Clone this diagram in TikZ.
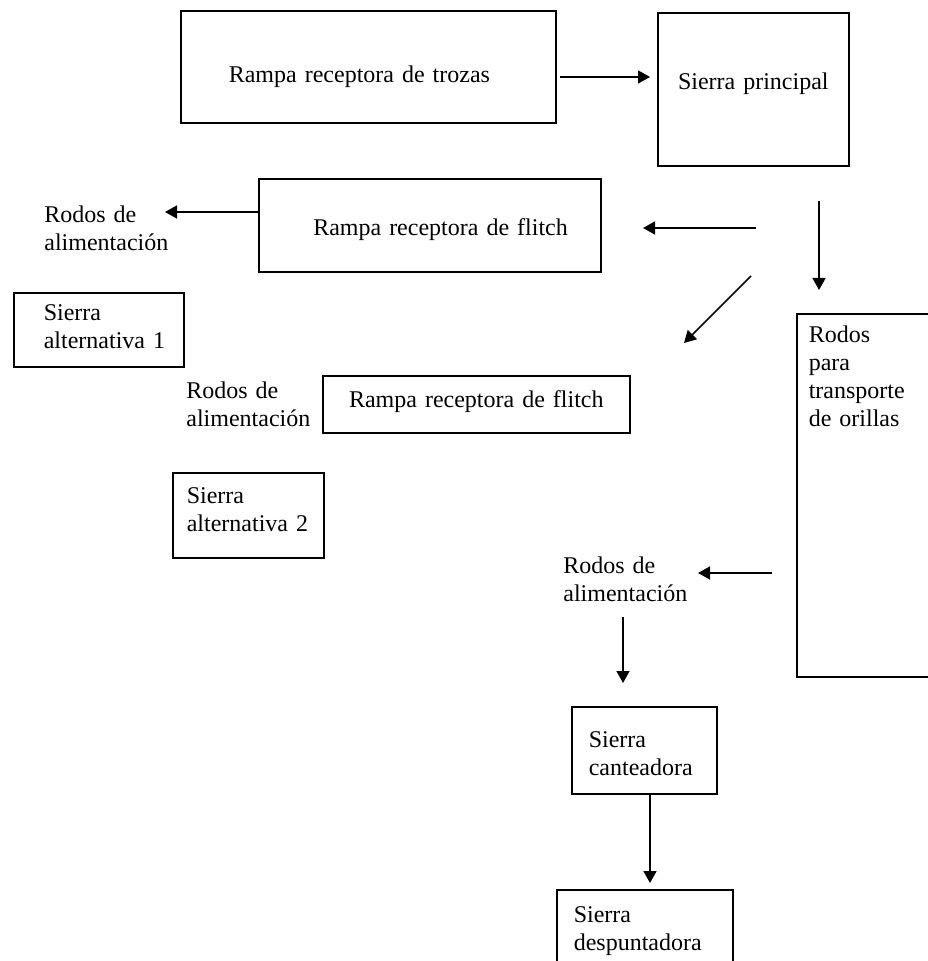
\documentclass[tikz,border=0pt]{standalone}
\usepackage{fontspec}
\setmainfont{Liberation Serif}
\usepackage{tikz}
\usetikzlibrary{arrows.meta}
\tikzset{
  box/.style={draw,line width=0.8pt,anchor=north west,inner ysep=0pt,font=\fontsize{12pt}{14pt}\selectfont},
  lbl/.style={anchor=base west,inner sep=0pt,align=left,text width=70pt,font=\fontsize{12pt}{14pt}\selectfont},
  arr/.style={line width=0.8pt,-{Triangle[length=6pt,width=6.5pt]}}
}
\begin{document}
\begin{tikzpicture}[x=0.5pt,y=-0.5pt]
\useasboundingbox (0,0) rectangle (927,961);
\node[box,align=left,inner xsep=24pt,text width=139.5pt,text height=36pt,text depth=20pt] (trozas) at (180,10) {Rampa receptora de trozas};
\node[box,align=center,inner xsep=7.5pt,text width=80.5pt,text height=38.5pt,text depth=38pt] (principal) at (657,12) {Sierra principal};
\node[box,align=right,inner xsep=16.5pt,text width=138pt,text height=28.5pt,text depth=18pt] (flitchA) at (258,178) {Rampa receptora de flitch};
\node[box,align=left,inner xsep=15pt,text width=55pt,text height=14pt,text depth=23pt] (alt1) at (13,292) {Sierra\\alternativa~1};
\node[box,align=left,inner xsep=6pt,text width=70pt,text height=14.5pt,text depth=167pt] (orillas) at (796,313) {Rodos\\para\\transporte\\de orillas};
\node[box,align=center,inner xsep=10pt,text width=133.5pt,text height=16pt,text depth=12.5pt] (flitchB) at (322,375) {Rampa receptora de flitch};
\node[box,align=left,inner xsep=7pt,text width=61.5pt,text height=15.5pt,text depth=27pt] (alt2) at (172,472) {Sierra\\alternativa 2};
\node[box,align=left,inner xsep=8.5pt,text width=55.5pt,text height=20.5pt,text depth=23pt] (canteadora) at (571,706) {Sierra\\canteadora};
\node[box,align=left,inner xsep=8.5pt,text width=71pt,text height=16.5pt,text depth=33.5pt] (despuntadora) at (556,889) {Sierra\\despuntadora};
\node[lbl] (rodosA) at (44,223) {Rodos de\\alimentación};
\node[lbl] (rodosB) at (186,399) {Rodos de\\alimentación};
\node[lbl] (rodosC) at (563,573) {Rodos de\\alimentación};
\coordinate (e0) at (650,77); \coordinate (e1) at (165,212);
\coordinate (s2) at (756,228); \coordinate (e2) at (643,228);
\coordinate (s3) at (751,276); \coordinate (e3) at (684,343);
\coordinate (s4) at (819,201); \coordinate (e4) at (819,290);
\coordinate (s5) at (772,573); \coordinate (e5) at (698,573);
\coordinate (s6) at (623,617); \coordinate (e6) at (623,683);
\coordinate (e7) at (650,883);
\draw[arr,shorten <=1.5pt] (trozas.east |- e0) -- (e0);
\draw[arr] (flitchA.west |- e1) -- (e1);
\draw[arr] (s2) -- (e2);
\draw[arr] (s3) -- (e3);
\draw[arr] (s4) -- (e4);
\draw[arr] (s5) -- (e5);
\draw[arr] (s6) -- (e6);
\draw[arr] (canteadora.south -| e7) -- (e7);
\end{tikzpicture}
\end{document}
